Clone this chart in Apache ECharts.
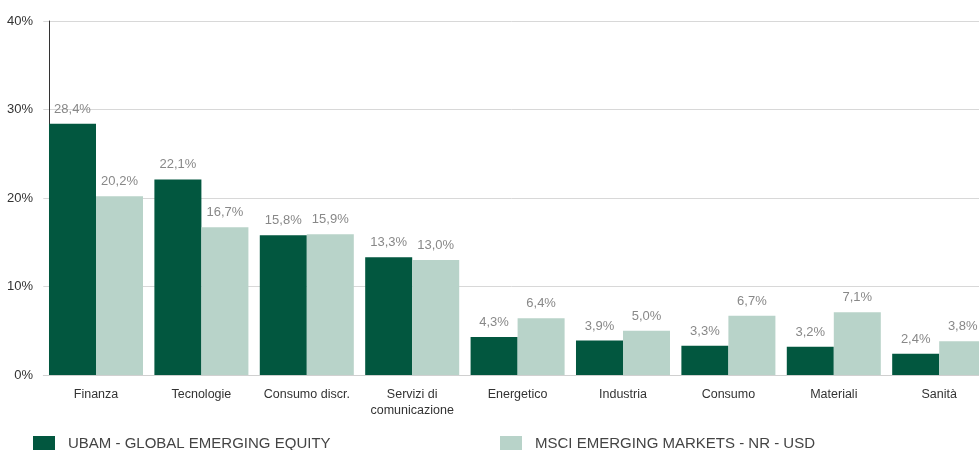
<!DOCTYPE html>
<html>
<head>
<meta charset="utf-8">
<script src="https://cdn.jsdelivr.net/npm/echarts@6/dist/echarts.min.js"></script>
<style>html,body{margin:0;padding:0;background:#fff}#c{width:979px;height:450px}</style>
</head>
<body>
<div id="c"></div>
<script>
var categories = ['Finanza','Tecnologie','Consumo discr.','Servizi di\ncomunicazione','Energetico','Industria','Consumo','Materiali','Sanità'];
var seriesNames = ['UBAM - GLOBAL EMERGING EQUITY','MSCI EMERGING MARKETS - NR - USD'];
var ubam = [28.4,22.1,15.8,13.3,4.3,3.9,3.3,3.2,2.4];
var msci = [20.2,16.7,15.9,13.0,6.4,5.0,6.7,7.1,3.8];
var yTicks = [0,10,20,30,40];

var font = 'Liberation Sans, Arial, sans-serif';
function fmt(v){ return v.toFixed(1).replace('.', ',') + '%'; }
var chart = echarts.init(document.getElementById('c'));
var legendText = {fontFamily:font,fontSize:15,color:'#444',padding:[0,0,0,8]};
chart.setOption({
  animation:false,
  textStyle:{fontFamily:font},
  grid:{left:43.3, width:948.6, top:21, height:354, containLabel:false, outerBoundsMode:'none'},
  legend:[
    {data:[seriesNames[0]], left:33, top:436, padding:0, itemWidth:22, itemHeight:15, icon:'rect', textStyle:legendText},
    {data:[seriesNames[1]], left:500, top:436, padding:0, itemWidth:22, itemHeight:15, icon:'rect', textStyle:legendText}
  ],
  xAxis:{type:'category', data:categories,
    axisLine:{show:true, lineStyle:{color:'#d0d0d0'}},
    axisTick:{show:false},
    axisLabel:{color:'#333', fontSize:12.5, margin:12, lineHeight:16, interval:0, fontFamily:font}
  },
  yAxis:{type:'value', min:yTicks[0], max:yTicks[yTicks.length-1], interval:10, offset:-5.7,
    axisLine:{show:true, lineStyle:{color:'#333'}},
    axisTick:{show:false},
    axisLabel:{color:'#333', fontSize:13, margin:16, formatter:function(v){return v+'%';}, fontFamily:font},
    splitLine:{lineStyle:{color:'#d8d8d8'}}
  },
  series:[
    {name:seriesNames[0], type:'bar', data:ubam, barGap:'0%', barCategoryGap:'10.8%',
     itemStyle:{color:'#02573f'},
     label:{show:true, position:'top', distance:8, color:'#888', fontSize:13, fontFamily:font,
       formatter:function(p){return fmt(p.value);}}},
    {name:seriesNames[1], type:'bar', data:msci, barGap:'0%', barCategoryGap:'10.8%',
     itemStyle:{color:'#b8d3c9'},
     label:{show:true, position:'top', distance:8, color:'#888', fontSize:13, fontFamily:font,
       formatter:function(p){return fmt(p.value);}}}
  ]
});
</script>
</body>
</html>
